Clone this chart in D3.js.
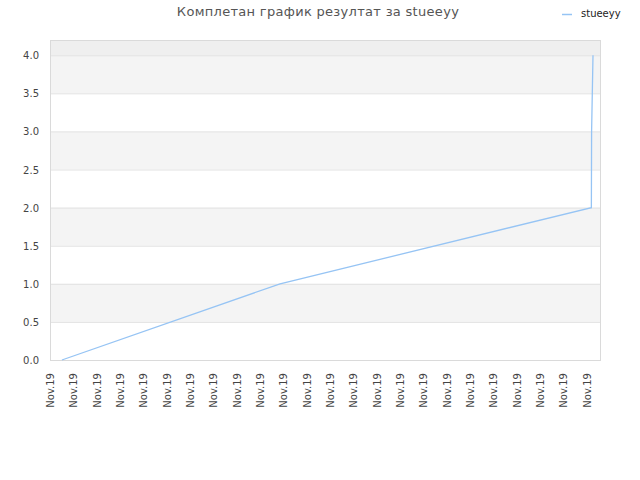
<!DOCTYPE html>
<html>
<head>
<meta charset="utf-8">
<script src="https://cdn.jsdelivr.net/npm/d3@7"></script>
<style>
  body { margin: 0; background: #fff; }
  text { font-family: "DejaVu Sans", sans-serif; }
</style>
</head>
<body>
<svg id="chart" width="640" height="480"></svg>
<script>
const title = 'Комплетан график резултат за stueeyy'
const seriesName = 'stueeyy'

// x positions in tick units (one unit per label), y = result
const times = [0.51, 9.86, 23.2, 23.21, 23.27]
const values = [0, 1, 2, 3, 4]
const tickLabels = d3.range(24).map(() => 'Nov.19')
const yTicks = [0, 0.5, 1, 1.5, 2, 2.5, 3, 3.5, 4]

const width = 640, height = 480
const margin = {top: 40, right: 40, bottom: 120, left: 50}

const svg = d3.select('#chart')

const x = d3.scaleLinear()
  .domain([0, 23.57])
  .range([margin.left, width - margin.right])
const y = d3.scaleLinear()
  .domain([0, 4.2])
  .range([height - margin.bottom, margin.top])

// top band above last tick
svg.append('rect')
  .attr('x', margin.left).attr('y', margin.top)
  .attr('width', x.range()[1] - margin.left)
  .attr('height', y(4) - margin.top)
  .attr('fill', '#efefef')

// alternating bands
const bands = d3.range(0, 4, 0.5).filter((d, i) => i % 2 === 1)
svg.append('g').selectAll('rect')
  .data(bands)
  .join('rect')
  .attr('x', margin.left)
  .attr('y', d => y(d + 0.5))
  .attr('width', x.range()[1] - margin.left)
  .attr('height', d => y(d) - y(d + 0.5))
  .attr('fill', '#f4f4f4')

// grid
svg.append('g').selectAll('line')
  .data(yTicks.slice(1))
  .join('line')
  .attr('x1', margin.left).attr('x2', x.range()[1])
  .attr('y1', d => y(d) + 0.5).attr('y2', d => y(d) + 0.5)
  .attr('stroke', '#e2e2e2')

// frame
svg.append('rect')
  .attr('x', margin.left + 0.5).attr('y', margin.top + 0.5)
  .attr('width', x.range()[1] - margin.left)
  .attr('height', y(0) - margin.top)
  .attr('fill', 'none')
  .attr('stroke', '#dadada')

// y axis labels
svg.append('g').selectAll('text')
  .data(yTicks)
  .join('text')
  .attr('x', margin.left - 11)
  .attr('y', d => y(d) + 4)
  .attr('text-anchor', 'end')
  .attr('font-size', 10)
  .attr('fill', '#444')
  .text(d => d3.format('.1f')(d))

// x axis labels
svg.append('g').selectAll('text')
  .data(tickLabels)
  .join('text')
  .attr('transform', (d, i) => `translate(${x(i) + 4},${y(0) + 13}) rotate(-90)`)
  .attr('text-anchor', 'end')
  .attr('font-size', 10)
  .attr('fill', '#444')
  .text(d => d)

// line
const pts = times.map((t, i) => [t, values[i]])
svg.append('path')
  .datum(pts)
  .attr('d', d3.line().x(d => x(d[0])).y(d => y(d[1])))
  .attr('fill', 'none')
  .attr('stroke', '#96c4f4')
  .attr('stroke-width', 1.3)

// title
svg.append('text')
  .attr('x', 318).attr('y', 16)
  .attr('text-anchor', 'middle')
  .attr('font-size', 13)
  .attr('letter-spacing', 0.3)
  .attr('fill', '#555')
  .text(title)

// legend
svg.append('line')
  .attr('x1', 562).attr('x2', 572)
  .attr('y1', 14.5).attr('y2', 14.5)
  .attr('stroke', '#96c4f4')
  .attr('stroke-width', 1.5)
svg.append('text')
  .attr('x', 581).attr('y', 17)
  .attr('font-size', 10)
  .attr('fill', '#222')
  .text(seriesName)
</script>
</body>
</html>
